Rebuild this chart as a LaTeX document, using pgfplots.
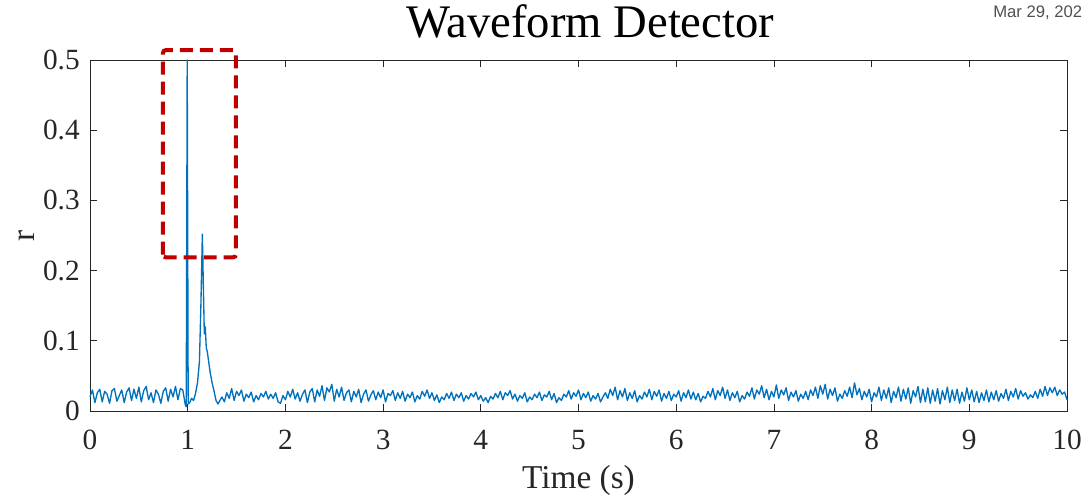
\documentclass[border=0pt]{standalone}
\usepackage{pgfplots}
\pgfplotsset{compat=1.18}
\usepackage{fontspec}
\setmainfont{Liberation Serif}
\newfontfamily\datefont{Liberation Sans}
\definecolor{mblue}{RGB}{0,114,189}
\definecolor{mred}{RGB}{192,0,0}
\definecolor{axgray}{RGB}{38,38,38}
\begin{document}
\begin{tikzpicture}
\path[use as bounding box] (-67.5pt,-64.5pt) rectangle (745.5pt,308.25pt);
\begin{axis}[
  at={(0,0)}, anchor=south west,
  scale only axis,
  width=732.75pt, height=263.25pt,
  xmin=0, xmax=10, ymin=0, ymax=0.5,
  xtick={0,1,...,10},
  ytick={0,0.1,0.2,0.3,0.4,0.5},
  yticklabels={0,0.1,0.2,0.3,0.4,0.5},
  /pgf/number format/assume math mode=true,
  tick align=inside,
  major tick length=5.25pt,
  axis line style={axgray, line width=0.6pt},
  every tick/.style={axgray, line width=0.6pt},
  tick label style={font=\fontsize{22}{22}\selectfont, text=axgray},
  xticklabel style={inner sep=0pt, anchor=north, yshift=-14pt},
  yticklabel style={inner sep=0pt, anchor=east, xshift=-7.5pt},
  xlabel={Time (s)},
  ylabel={r},
  label style={font=\fontsize{25}{25}\selectfont, text=axgray},
  xlabel style={at={(axis description cs:0.5,0)}, anchor=base, inner sep=0pt, yshift=-58pt},
  ylabel style={at={(axis description cs:-0.0645,0.5)}, anchor=center, inner sep=0pt},
  title={Waveform Detector},
  title style={font=\fontsize{35}{35}\selectfont, at={(axis description cs:0.512,1)}, anchor=base, inner sep=0pt, yshift=11.25pt},
  clip=false,
]
\addplot[mblue, line width=1pt, line join=round] table {
x y
0.000 0.020
0.025 0.030
0.050 0.012
0.075 0.026
0.100 0.031
0.125 0.013
0.150 0.028
0.175 0.024
0.200 0.011
0.225 0.029
0.250 0.032
0.275 0.014
0.300 0.022
0.325 0.030
0.350 0.012
0.375 0.027
0.400 0.033
0.425 0.015
0.450 0.031
0.475 0.018
0.500 0.034
0.525 0.013
0.550 0.029
0.575 0.035
0.600 0.016
0.625 0.026
0.650 0.012
0.675 0.030
0.700 0.024
0.725 0.011
0.750 0.028
0.775 0.033
0.800 0.014
0.825 0.031
0.850 0.020
0.875 0.035
0.900 0.016
0.925 0.032
0.950 0.030
0.975 0.009
0.985 0.006
0.995 0.500
1.005 0.010
1.020 0.012
1.040 0.018
1.060 0.015
1.080 0.025
1.100 0.040
1.120 0.070
1.135 0.150
1.150 0.252
1.160 0.180
1.170 0.110
1.180 0.120
1.190 0.090
1.200 0.085
1.215 0.070
1.230 0.055
1.250 0.040
1.270 0.028
1.290 0.015
1.310 0.010
1.325 0.014
1.350 0.020
1.375 0.013
1.400 0.026
1.425 0.018
1.450 0.032
1.475 0.015
1.500 0.028
1.525 0.022
1.550 0.030
1.575 0.014
1.600 0.024
1.625 0.019
1.650 0.027
1.675 0.013
1.700 0.022
1.725 0.016
1.750 0.025
1.775 0.020
1.800 0.028
1.825 0.017
1.850 0.024
1.875 0.018
1.900 0.026
1.925 0.013
1.950 0.011
1.975 0.022
2.000 0.016
2.025 0.028
2.050 0.020
2.075 0.031
2.100 0.017
2.125 0.026
2.150 0.014
2.175 0.024
2.200 0.030
2.225 0.012
2.250 0.027
2.275 0.032
2.300 0.013
2.325 0.030
2.350 0.021
2.375 0.036
2.400 0.015
2.425 0.033
2.450 0.027
2.475 0.038
2.500 0.014
2.525 0.031
2.550 0.020
2.575 0.034
2.600 0.015
2.625 0.026
2.650 0.030
2.675 0.013
2.700 0.028
2.725 0.020
2.750 0.031
2.775 0.012
2.800 0.024
2.825 0.030
2.850 0.014
2.875 0.023
2.900 0.029
2.925 0.016
2.950 0.027
2.975 0.019
3.000 0.030
3.025 0.013
3.050 0.025
3.075 0.022
3.100 0.029
3.125 0.015
3.150 0.026
3.175 0.018
3.200 0.028
3.225 0.014
3.250 0.024
3.275 0.019
3.300 0.027
3.325 0.013
3.350 0.022
3.375 0.017
3.400 0.028
3.425 0.021
3.450 0.030
3.475 0.018
3.500 0.026
3.525 0.015
3.550 0.023
3.575 0.012
3.600 0.020
3.625 0.016
3.650 0.025
3.675 0.018
3.700 0.027
3.725 0.015
3.750 0.024
3.775 0.019
3.800 0.026
3.825 0.014
3.850 0.022
3.875 0.017
3.900 0.025
3.925 0.020
3.950 0.027
3.975 0.016
4.000 0.022
4.025 0.014
4.050 0.019
4.075 0.012
4.100 0.021
4.125 0.017
4.150 0.025
4.175 0.019
4.200 0.028
4.225 0.016
4.250 0.026
4.275 0.022
4.300 0.029
4.325 0.017
4.350 0.024
4.375 0.014
4.400 0.022
4.425 0.018
4.450 0.026
4.475 0.013
4.500 0.020
4.525 0.016
4.550 0.024
4.575 0.019
4.600 0.027
4.625 0.015
4.650 0.023
4.675 0.020
4.700 0.028
4.725 0.016
4.750 0.025
4.775 0.012
4.800 0.019
4.825 0.015
4.850 0.024
4.875 0.020
4.900 0.029
4.925 0.017
4.950 0.026
4.975 0.021
5.000 0.030
5.025 0.016
5.050 0.025
5.075 0.019
5.100 0.027
5.125 0.014
5.150 0.022
5.175 0.017
5.200 0.025
5.225 0.013
5.250 0.020
5.275 0.026
5.300 0.018
5.325 0.031
5.350 0.022
5.375 0.034
5.400 0.016
5.425 0.029
5.450 0.020
5.475 0.032
5.500 0.015
5.525 0.026
5.550 0.018
5.575 0.029
5.600 0.013
5.625 0.022
5.650 0.017
5.675 0.027
5.700 0.020
5.725 0.031
5.750 0.016
5.775 0.028
5.800 0.021
5.825 0.030
5.850 0.014
5.875 0.025
5.900 0.018
5.925 0.028
5.950 0.015
5.975 0.024
6.000 0.020
6.025 0.029
6.050 0.014
6.075 0.026
6.100 0.019
6.125 0.030
6.150 0.017
6.175 0.027
6.200 0.016
6.225 0.025
6.250 0.013
6.275 0.021
6.300 0.018
6.325 0.028
6.350 0.020
6.375 0.032
6.400 0.016
6.425 0.029
6.450 0.022
6.475 0.034
6.500 0.018
6.525 0.030
6.550 0.015
6.575 0.026
6.600 0.019
6.625 0.028
6.650 0.013
6.675 0.022
6.700 0.017
6.725 0.027
6.750 0.021
6.775 0.033
6.800 0.017
6.825 0.030
6.850 0.024
6.875 0.036
6.900 0.019
6.925 0.031
6.950 0.016
6.975 0.028
7.000 0.020
7.025 0.037
7.050 0.018
7.075 0.030
7.100 0.023
7.125 0.033
7.150 0.015
7.175 0.027
7.200 0.020
7.225 0.029
7.250 0.014
7.275 0.024
7.300 0.018
7.325 0.028
7.350 0.016
7.375 0.030
7.400 0.022
7.425 0.034
7.450 0.018
7.475 0.036
7.500 0.024
7.525 0.038
7.550 0.017
7.575 0.031
7.600 0.022
7.625 0.033
7.650 0.014
7.675 0.024
7.700 0.018
7.725 0.029
7.750 0.021
7.775 0.034
7.800 0.019
7.825 0.040
7.850 0.023
7.875 0.032
7.900 0.016
7.925 0.028
7.950 0.020
7.975 0.031
8.000 0.013
8.025 0.026
8.050 0.020
8.075 0.034
8.100 0.015
8.125 0.030
8.150 0.018
8.175 0.033
8.200 0.012
8.225 0.028
8.250 0.019
8.275 0.034
8.300 0.014
8.325 0.031
8.350 0.017
8.375 0.033
8.400 0.011
8.425 0.029
8.450 0.020
8.475 0.035
8.500 0.012
8.525 0.031
8.550 0.013
8.575 0.033
8.600 0.011
8.625 0.030
8.650 0.014
8.675 0.032
8.700 0.010
8.725 0.029
8.750 0.016
8.775 0.034
8.800 0.012
8.825 0.030
8.850 0.015
8.875 0.031
8.900 0.011
8.925 0.027
8.950 0.014
8.975 0.033
9.000 0.016
9.025 0.030
9.050 0.013
9.075 0.028
9.100 0.012
9.125 0.026
9.150 0.015
9.175 0.030
9.200 0.013
9.225 0.027
9.250 0.016
9.275 0.029
9.300 0.014
9.325 0.025
9.350 0.018
9.375 0.031
9.400 0.015
9.425 0.028
9.450 0.020
9.475 0.032
9.500 0.017
9.525 0.029
9.550 0.021
9.575 0.026
9.600 0.017
9.625 0.023
9.650 0.019
9.675 0.028
9.700 0.018
9.725 0.031
9.750 0.021
9.775 0.035
9.800 0.022
9.825 0.033
9.850 0.026
9.875 0.034
9.900 0.022
9.925 0.030
9.950 0.024
9.975 0.027
10.000 0.016
};
\draw[mred, line width=3pt, rounded corners=2pt, dash pattern=on 9.75pt off 5.25pt]
  (axis cs:0.747,0.219) rectangle (axis cs:1.494,0.514);
\end{axis}
\node[anchor=base west, inner sep=0pt, text={rgb,255:red,80;green,80;blue,80}, font=\datefont\fontsize{12.5}{12.5}\selectfont] at (677.25pt,294.75pt) {Mar 29, 202};
\end{tikzpicture}
\end{document}
